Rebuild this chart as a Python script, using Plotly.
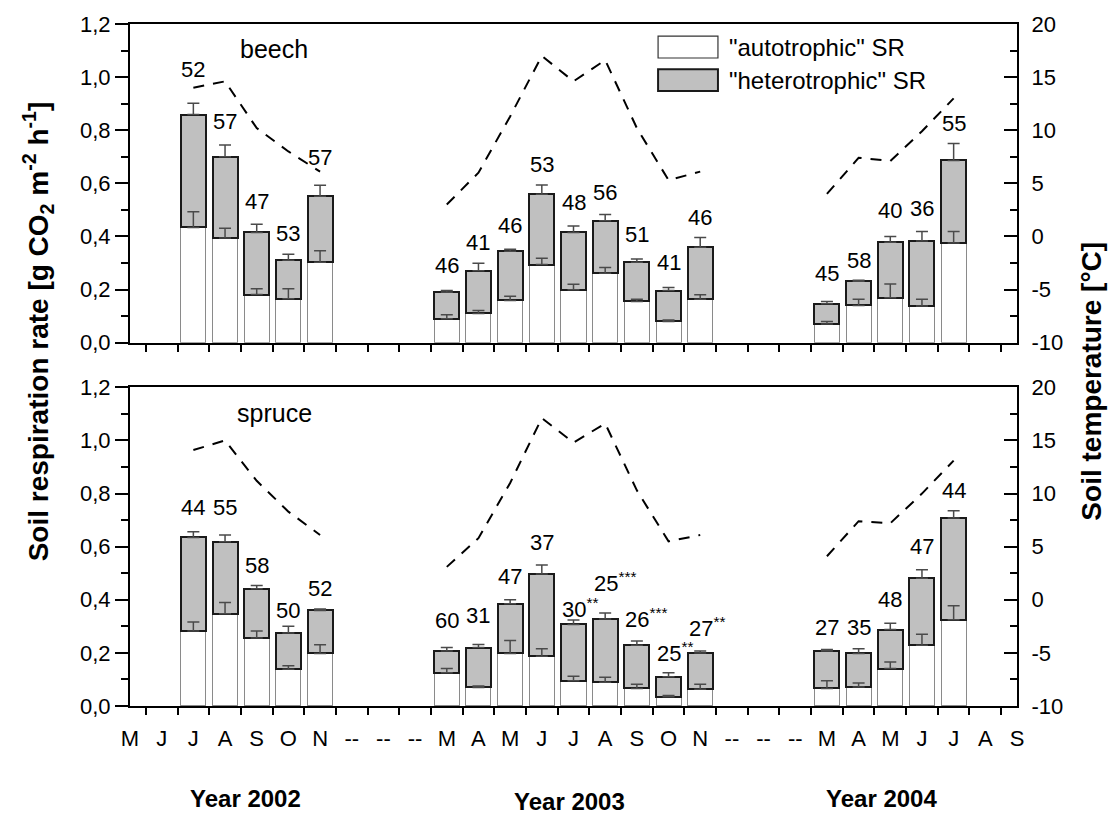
import plotly.graph_objects as go
from plotly.subplots import make_subplots

# ---------------- data ----------------
months = ["M", "J", "J", "A", "S", "O", "N", "--", "--", "--",
          "M", "A", "M", "J", "J", "A", "S", "O", "N", "--", "--", "--",
          "M", "A", "M", "J", "J", "A", "S"]
bar_pos = [2, 3, 4, 5, 6,
           10, 11, 12, 13, 14, 15, 16, 17, 18,
           22, 23, 24, 25, 26]
year_segments = [(0, 5), (5, 14), (14, 19)]
years = ["Year 2002", "Year 2003", "Year 2004"]

beech_total = [0.859, 0.700, 0.415, 0.310, 0.551,
               0.190, 0.271, 0.344, 0.559, 0.415, 0.459, 0.303, 0.196, 0.359,
               0.146, 0.231, 0.378, 0.383, 0.686]
beech_total_se = [0.043, 0.044, 0.031, 0.023, 0.042,
                  0.006, 0.028, 0.008, 0.035, 0.024, 0.024, 0.012, 0.012, 0.037,
                  0.009, 0.004, 0.022, 0.036, 0.064]
beech_auto = [0.434, 0.394, 0.181, 0.165, 0.303,
              0.090, 0.110, 0.159, 0.294, 0.199, 0.261, 0.155, 0.080, 0.163,
              0.070, 0.140, 0.169, 0.138, 0.375]
beech_auto_se = [0.059, 0.037, 0.022, 0.038, 0.043,
                 0.015, 0.011, 0.016, 0.024, 0.021, 0.022, 0.008, 0.005, 0.017,
                 0.010, 0.023, 0.052, 0.025, 0.044]
beech_pct = ["52", "57", "47", "53", "57",
             "46", "41", "46", "53", "48", "56", "51", "41", "46",
             "45", "58", "40", "36", "55"]
beech_sig = [""] * 19
beech_temp = [14.0, 14.6, 10.2, 8.0, 6.1,
              3.0, 6.0, 11.3, 17.0, 14.6, 16.6, 10.2, 5.3, 6.1,
              4.0, 7.4, 7.1, 9.9, 13.0]

spruce_total = [0.635, 0.619, 0.442, 0.275, 0.360,
                0.207, 0.220, 0.385, 0.497, 0.307, 0.328, 0.229, 0.110, 0.200,
                0.207, 0.198, 0.288, 0.481, 0.708]
spruce_total_se = [0.021, 0.025, 0.012, 0.025, 0.005,
                   0.013, 0.012, 0.015, 0.034, 0.017, 0.022, 0.016, 0.015, 0.007,
                   0.006, 0.018, 0.024, 0.032, 0.027]
spruce_auto = [0.282, 0.347, 0.256, 0.138, 0.198,
               0.125, 0.070, 0.198, 0.187, 0.095, 0.089, 0.066, 0.035, 0.063,
               0.066, 0.072, 0.141, 0.229, 0.325]
spruce_auto_se = [0.034, 0.043, 0.026, 0.014, 0.033,
                  0.016, 0.005, 0.049, 0.029, 0.017, 0.019, 0.016, 0.005, 0.019,
                  0.029, 0.015, 0.025, 0.041, 0.053]
spruce_pct = ["44", "55", "58", "50", "52",
              "60", "31", "47", "37", "30", "25", "26", "25", "27",
              "27", "35", "48", "47", "44"]
spruce_sig = ["", "", "", "", "",
              "", "", "", "", "**", "***", "***", "**", "**",
              "", "", "", "", ""]
spruce_temp = [14.1, 15.0, 11.2, 8.3, 6.1,
               3.1, 5.8, 11.0, 17.1, 14.8, 16.6, 10.3, 5.5, 6.1,
               4.1, 7.4, 7.2, 10.0, 13.1]

left_ticks = [0.0, 0.2, 0.4, 0.6, 0.8, 1.0, 1.2]
left_ticktext = ["0,0", "0,2", "0,4", "0,6", "0,8", "1,0", "1,2"]
right_ticks = [-10, -5, 0, 5, 10, 15, 20]
right_ticktext = ["-10", "-5", "0", "5", "10", "15", "20"]

# ---------------- layout positions (not data) ----------------
beech_label_y = [1.027, 0.831, 0.531, 0.412, 0.699,
                 0.290, 0.378, 0.440, 0.671, 0.528, 0.564, 0.409, 0.303, 0.471,
                 0.259, 0.309, 0.496, 0.506, 0.824]
spruce_label_y = [0.747, 0.747, 0.529, 0.360, 0.444,
                  0.322, 0.341, 0.487, 0.616, 0.368, 0.467, 0.333, 0.204, 0.297,
                  0.295, 0.295, 0.400, 0.600, 0.812]

FONT = "Liberation Sans, Arial, sans-serif"
GRAY = "#c0c0c0"
ERRC = "#4a4a4a"

fig = make_subplots(rows=2, cols=1,
                    specs=[[{"secondary_y": True}], [{"secondary_y": True}]])

panels = [
    (1, beech_total, beech_total_se, beech_auto, beech_auto_se, beech_temp,
     beech_pct, beech_sig, beech_label_y, "beech"),
    (2, spruce_total, spruce_total_se, spruce_auto, spruce_auto_se, spruce_temp,
     spruce_pct, spruce_sig, spruce_label_y, "spruce"),
]

for row, tot, tot_se, auto, auto_se, temp, pct, sig, lab_y, name in panels:
    hetero = [t - a for t, a in zip(tot, auto)]
    zeros = [0] * len(bar_pos)
    fig.add_trace(go.Bar(x=bar_pos, y=auto, width=0.79, showlegend=False,
                         marker=dict(color="white", line=dict(color="#8a8a8a", width=1))),
                  row=row, col=1, secondary_y=False)
    fig.add_trace(go.Bar(x=bar_pos, y=hetero, width=0.79, showlegend=False,
                         marker=dict(color=GRAY, line=dict(color="#1a1a1a", width=2))),
                  row=row, col=1, secondary_y=False)
    # error bars (upper only), drawn above bars
    fig.add_trace(go.Scatter(x=bar_pos, y=auto, mode="markers", showlegend=False,
                             marker=dict(size=1, color="rgba(0,0,0,0)"),
                             error_y=dict(type="data", array=auto_se, arrayminus=zeros,
                                          symmetric=False, color=ERRC, thickness=1.5, width=6)),
                  row=row, col=1, secondary_y=False)
    fig.add_trace(go.Scatter(x=bar_pos, y=tot, mode="markers", showlegend=False,
                             marker=dict(size=1, color="rgba(0,0,0,0)"),
                             error_y=dict(type="data", array=tot_se, arrayminus=zeros,
                                          symmetric=False, color=ERRC, thickness=1.5, width=6)),
                  row=row, col=1, secondary_y=False)
    # temperature line with gaps between years
    tx, ty = [], []
    for s, e in year_segments:
        tx += bar_pos[s:e] + [None]
        ty += temp[s:e] + [None]
    fig.add_trace(go.Scatter(x=tx, y=ty, mode="lines", showlegend=False,
                             line=dict(color="black", width=2, dash="11px,9px")),
                  row=row, col=1, secondary_y=True)

    xref = "x" if row == 1 else "x2"
    yref = "y" if row == 1 else "y3"
    for xp, p, sg, ly in zip(bar_pos, pct, sig, lab_y):
        if sg:
            fig.add_annotation(x=xp, y=ly, xref=xref, yref=yref, showarrow=False,
                               text=p + "<sup>" + sg + "</sup>", xanchor="left", xshift=-12.5,
                               borderpad=0, font=dict(family=FONT, size=22, color="black"))
        else:
            fig.add_annotation(x=xp, y=ly, xref=xref, yref=yref, showarrow=False,
                               text=p, borderpad=0,
                               font=dict(family=FONT, size=22, color="black"))
    fig.add_annotation(x=4.55, y=1.105, xref=xref, yref=yref, showarrow=False, text=name,
                       font=dict(family=FONT, size=25, color="black"))

# custom legend in the top panel
fig.add_shape(type="rect", xref="x", yref="y", x0=16.67, x1=18.56, y0=1.072, y1=1.154,
              fillcolor="white", line=dict(color="#333333", width=1.2))
fig.add_shape(type="rect", xref="x", yref="y", x0=16.67, x1=18.56, y0=0.948, y1=1.030,
              fillcolor=GRAY, line=dict(color="#1a1a1a", width=2))
fig.add_annotation(x=18.85, y=1.113, xref="x", yref="y", showarrow=False, xanchor="left",
                   text='"autotrophic" SR', font=dict(family=FONT, size=24, color="black"))
fig.add_annotation(x=18.85, y=0.989, xref="x", yref="y", showarrow=False, xanchor="left",
                   text='"heterotrophic" SR', font=dict(family=FONT, size=24, color="black"))

# axis titles
fig.add_annotation(x=-0.104, y=0.549, xref="paper", yref="paper", showarrow=False,
                   textangle=-90, xanchor="center", yanchor="middle",
                   text="<b>Soil respiration rate [g CO<sub>2</sub> m<sup>-2</sup> h<sup>-1</sup>]</b>",
                   font=dict(family=FONT, size=28, color="black"))
fig.add_annotation(x=1.0845, y=0.477, xref="paper", yref="paper", showarrow=False,
                   textangle=-90, xanchor="center", yanchor="middle",
                   text="<b>Soil temperature [°C]</b>",
                   font=dict(family=FONT, size=28, color="black"))

# year labels
for yx, yl, yy in zip([0.1302, 0.4960, 0.8467], years, [-0.135, -0.140, -0.135]):
    fig.add_annotation(x=yx, y=yy, xref="paper", yref="paper", showarrow=False,
                       xanchor="center", yanchor="middle",
                       text="<b>" + yl + "</b>", font=dict(family=FONT, size=24, color="black"))

xcommon = dict(range=[0, 28], domain=[0, 1], showline=True, linecolor="black", linewidth=2,
               mirror=True,
               tickmode="array", tickvals=list(range(len(months))), ticktext=months,
               ticks="", showgrid=False, zeroline=False,
               tickfont=dict(family=FONT, size=22, color="black"),
               minor=dict(tickmode="array", tickvals=[i + 0.5 for i in range(len(months) - 1)],
                          ticks="outside", ticklen=7, tickwidth=2, tickcolor="black",
                          showgrid=False))
fig.update_layout(xaxis=dict(xcommon, showticklabels=False),
                  xaxis2=dict(xcommon, showticklabels=True, ticklabelstandoff=12))

ycommon = dict(range=[0, 1.2], tickmode="array", tickvals=left_ticks, ticktext=left_ticktext,
               ticks="outside", ticklen=13, tickwidth=2, tickcolor="black",
               showline=True, linecolor="black", linewidth=2, showgrid=False, zeroline=False,
               tickfont=dict(family=FONT, size=22, color="black"),
               minor=dict(tickmode="array", tickvals=[0.1, 0.3, 0.5, 0.7, 0.9, 1.1],
                          ticks="outside", ticklen=7, tickwidth=2, tickcolor="black",
                          showgrid=False))
y2common = dict(range=[-10, 20], tickmode="array", tickvals=right_ticks, ticktext=right_ticktext,
                ticks="inside", ticklen=13, tickwidth=2, tickcolor="black",
                showline=True, linecolor="black", linewidth=2, showgrid=False, zeroline=False,
                ticklabelstandoff=8,
                tickfont=dict(family=FONT, size=22, color="black"),
                minor=dict(tickmode="array", tickvals=[-7.5, -2.5, 2.5, 7.5, 12.5, 17.5],
                           ticks="inside", ticklen=7, tickwidth=2, tickcolor="black",
                           showgrid=False))
top_dom = [0.5328, 1.0]
bot_dom = [0.0, 0.4672]
fig.update_layout(yaxis=dict(ycommon, domain=top_dom),
                  yaxis2=dict(y2common),
                  yaxis3=dict(ycommon, domain=bot_dom),
                  yaxis4=dict(y2common))

fig.update_layout(width=1114, height=814, barmode="stack",
                  margin=dict(l=130, r=97, t=21, b=108),
                  plot_bgcolor="white", paper_bgcolor="white",
                  font=dict(family=FONT, color="black"), showlegend=False)

fig.write_html("out.html")
